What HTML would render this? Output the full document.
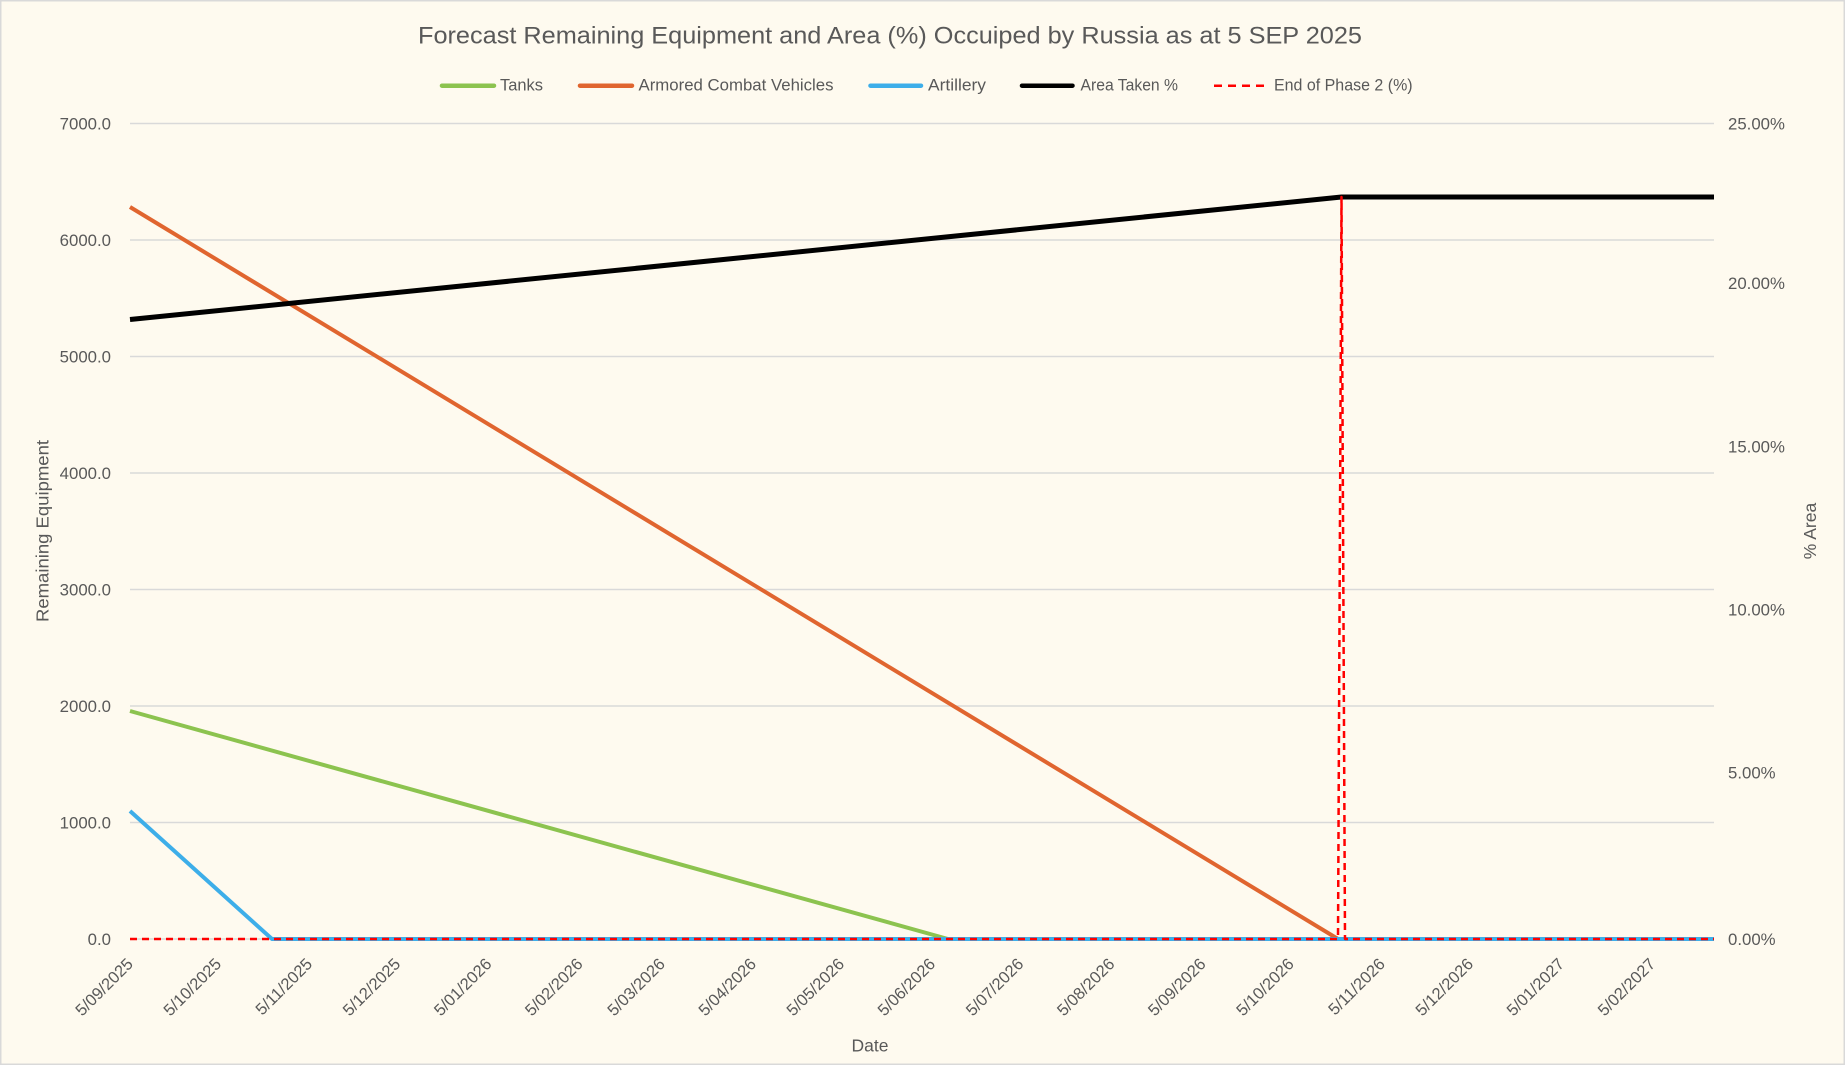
<!DOCTYPE html>
<html>
<head>
<meta charset="utf-8">
<style>
  html, body { margin: 0; padding: 0; background: #FEFAEF; }
  svg { display: block; }
  text { font-family: "Liberation Sans", Arial, sans-serif; fill: #595959; }
</style>
</head>
<body>
<svg width="1845" height="1065" viewBox="0 0 1845 1065" xmlns="http://www.w3.org/2000/svg">
  <rect x="0.75" y="0.75" width="1843.5" height="1063.5" fill="#FEFAEF" stroke="#D9D9D9" stroke-width="1.5"/>

  <!-- Title -->
  <text x="890" y="43.3" font-size="24" text-anchor="middle" textLength="944" lengthAdjust="spacingAndGlyphs">Forecast Remaining Equipment and Area (%) Occuiped by Russia as at 5 SEP 2025</text>

  <!-- Legend -->
  <g stroke-linecap="round" stroke-width="4.5" fill="none">
    <line x1="442" y1="85.7" x2="494" y2="85.7" stroke="#8CC34F"/>
    <line x1="580" y1="85.7" x2="632" y2="85.7" stroke="#E0652F"/>
    <line x1="870.5" y1="85.7" x2="921" y2="85.7" stroke="#3DAEE9"/>
    <line x1="1022" y1="85.7" x2="1072.5" y2="85.7" stroke="#000000"/>
  </g>
  <line x1="1214" y1="85.7" x2="1266" y2="85.7" stroke="#FF0000" stroke-width="2.5" stroke-dasharray="8 6"/>
  <g font-size="16.5">
    <text x="500" y="90.7" textLength="43" lengthAdjust="spacingAndGlyphs">Tanks</text>
    <text x="638.5" y="90.7" textLength="195" lengthAdjust="spacingAndGlyphs">Armored Combat Vehicles</text>
    <text x="928" y="90.7" textLength="58" lengthAdjust="spacingAndGlyphs">Artillery</text>
    <text x="1080.5" y="90.7" textLength="97.5" lengthAdjust="spacingAndGlyphs">Area Taken %</text>
    <text x="1274" y="90.7" textLength="138.6" lengthAdjust="spacingAndGlyphs">End of Phase 2 (%)</text>
  </g>

  <!-- Gridlines -->
  <g stroke="#D9D9D9" stroke-width="1.5">
    <line x1="130" y1="123.5" x2="1714" y2="123.5"/>
    <line x1="130" y1="240" x2="1714" y2="240"/>
    <line x1="130" y1="356.5" x2="1714" y2="356.5"/>
    <line x1="130" y1="473" x2="1714" y2="473"/>
    <line x1="130" y1="589.5" x2="1714" y2="589.5"/>
    <line x1="130" y1="706" x2="1714" y2="706"/>
    <line x1="130" y1="822.5" x2="1714" y2="822.5"/>
    <line x1="130" y1="939" x2="1714" y2="939"/>
  </g>

  <!-- Left axis labels -->
  <g font-size="16.8" text-anchor="end">
    <text x="111" y="129.5">7000.0</text>
    <text x="111" y="246">6000.0</text>
    <text x="111" y="362.5">5000.0</text>
    <text x="111" y="479">4000.0</text>
    <text x="111" y="595.5">3000.0</text>
    <text x="111" y="712">2000.0</text>
    <text x="111" y="828.5">1000.0</text>
    <text x="111" y="945">0.0</text>
  </g>

  <!-- Right axis labels -->
  <g font-size="16.8">
    <text x="1728" y="129.5">25.00%</text>
    <text x="1728" y="289.2">20.00%</text>
    <text x="1728" y="452.3">15.00%</text>
    <text x="1728" y="615.4">10.00%</text>
    <text x="1728" y="778.5">5.00%</text>
    <text x="1728" y="945">0.00%</text>
  </g>

  <!-- Axis titles -->
  <text transform="translate(48.3,531) rotate(-90)" font-size="17.5" text-anchor="middle" textLength="182" lengthAdjust="spacingAndGlyphs">Remaining Equipment</text>
  <text transform="translate(1816,531) rotate(-90)" font-size="17.5" text-anchor="middle">% Area</text>
  <text x="870" y="1051.7" font-size="17.5" text-anchor="middle">Date</text>

  <!-- X tick labels -->
  <g font-size="16.5" text-anchor="end">
    <text transform="translate(134,965) rotate(-45)">5/09/2025</text>
    <text transform="translate(222.2,965) rotate(-45)">5/10/2025</text>
    <text transform="translate(313.3,965) rotate(-45)">5/11/2025</text>
    <text transform="translate(401.4,965) rotate(-45)">5/12/2025</text>
    <text transform="translate(492.6,965) rotate(-45)">5/01/2026</text>
    <text transform="translate(583.7,965) rotate(-45)">5/02/2026</text>
    <text transform="translate(666,965) rotate(-45)">5/03/2026</text>
    <text transform="translate(757.1,965) rotate(-45)">5/04/2026</text>
    <text transform="translate(845.2,965) rotate(-45)">5/05/2026</text>
    <text transform="translate(936.3,965) rotate(-45)">5/06/2026</text>
    <text transform="translate(1024.5,965) rotate(-45)">5/07/2026</text>
    <text transform="translate(1115.6,965) rotate(-45)">5/08/2026</text>
    <text transform="translate(1206.7,965) rotate(-45)">5/09/2026</text>
    <text transform="translate(1294.9,965) rotate(-45)">5/10/2026</text>
    <text transform="translate(1386,965) rotate(-45)">5/11/2026</text>
    <text transform="translate(1474.2,965) rotate(-45)">5/12/2026</text>
    <text transform="translate(1565.3,965) rotate(-45)">5/01/2027</text>
    <text transform="translate(1656.4,965) rotate(-45)">5/02/2027</text>
  </g>

  <!-- Series -->
  <g fill="none" stroke-linejoin="round">
    <polyline points="130,711 948,939 1714,939" stroke="#8CC34F" stroke-width="4"/>
    <polyline points="130,207 1338,939" stroke="#E0652F" stroke-width="4"/>
    <polyline points="130,811 272,939 1714,939" stroke="#3DAEE9" stroke-width="4"/>
    <polyline points="130,319.5 1341.5,197 1714,197" stroke="#000000" stroke-width="5"/>
    <polyline points="130,939 1338,939 1341.5,197 1345,939 1714,939" stroke="#FF0000" stroke-width="2.5" stroke-dasharray="7 5"/>
  </g>
</svg>
</body>
</html>
